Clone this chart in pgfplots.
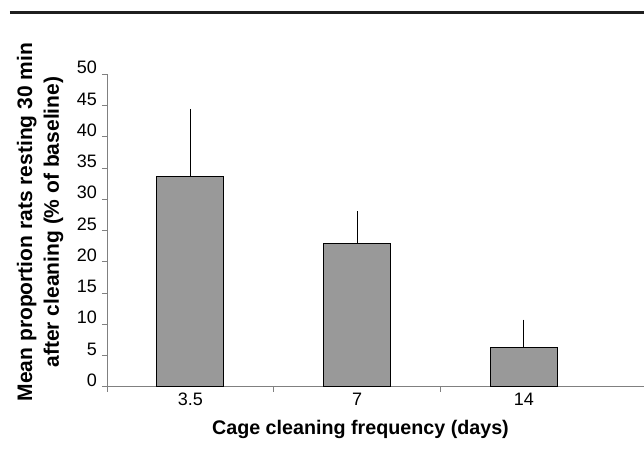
\documentclass[border=0pt]{standalone}
\usepackage{pgfplots}
\pgfplotsset{compat=1.18}
\usetikzlibrary{calc}
\usepackage{fontspec}
\setmainfont{Liberation Sans}
\begin{document}
\begin{tikzpicture}
\begin{axis}[
  scale only axis, width=537pt, height=312.4pt,
  xmin=0.5, xmax=3.721, ymin=0, ymax=50,
  axis lines*=left,
  axis line style={draw=black!50, line width=0.9pt},
  tick style={draw=black!50, line width=0.9pt},
  tick align=outside, major tick length=5pt,
  ytick={0,5,...,50},
  /pgf/number format/assume math mode=true,
  yticklabel style={font=\fontsize{18}{20}\selectfont, anchor=east, xshift=-5pt, yshift=6.5pt, inner sep=0pt},
  xtick={0.5,1.5,2.5}, xticklabels={},
  extra x ticks={1,2,3}, extra x tick labels={3.5,7,14},
  extra x tick style={tick style={draw=none}},
  xticklabel style={font=\fontsize{18}{20}\selectfont, anchor=center, yshift=-8pt, inner sep=0pt},
  xlabel={Cage cleaning frequency (days)},
  xlabel style={font=\bfseries\fontsize{19.7}{22}\selectfont, at={(axis description cs:0.472,-0.1354)}, anchor=center},
  ylabel={Mean proportion rats resting 30 min\\after cleaning (\% of baseline)},
  ylabel style={font=\bfseries\fontsize{21}{26.6}\selectfont, align=center, at={(axis description cs:-0.1245,0.527)}, anchor=center},
]
\addplot[ybar, bar width=67pt, fill=black!40, draw=black, line width=0.9pt,
  error bars/.cd, y dir=plus, y explicit,
  error bar style={black, line width=1.1pt},
  error mark options={black, line width=1.1pt, mark size=3pt}]
  coordinates {(1,33.6) +- (0,10.4) (2,22.9) +- (0,4.7) (3,6.35) +- (0,3.9)};
\coordinate (O) at (rel axis cs:0,0);
\end{axis}
\pgfresetboundingbox
\useasboundingbox ($(O)+(-107pt,-62.3pt)$) rectangle ($(O)+(537pt,386.7pt)$);
\draw[line width=2.8pt, color=black!88] ($(O)+(-97pt,374.4pt)$) -- ($(O)+(537pt,374.4pt)$);
\end{tikzpicture}
\end{document}
